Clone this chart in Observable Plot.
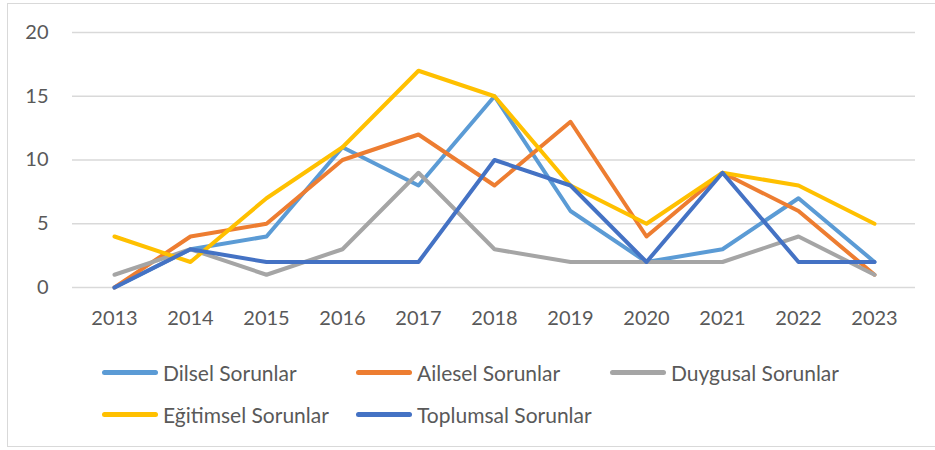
<!DOCTYPE html>
<html>
<head>
<meta charset="utf-8">
<script src="https://cdn.jsdelivr.net/npm/d3@7"></script>
<script src="https://cdn.jsdelivr.net/npm/@observablehq/plot@0.6"></script>
<style>
  html, body { margin: 0; padding: 0; background: #fff; overflow: hidden; width: 935px; height: 450px; }
  #wrap { position: relative; width: 935px; height: 450px; font-family: Lato, "Noto Sans", sans-serif; }
  #frame { position: absolute; left: 7px; top: 3px; width: 960px; height: 444px; border: 1.5px solid #d9d9d9; box-sizing: border-box; }
  #chart { position: absolute; left: 0; top: 0; }
  #legend { position: absolute; left: 102px; top: 359px; display: grid; grid-template-columns: 254px 254px 254px; row-gap: 16px; }
  .item { display: flex; align-items: center; height: 26px; font-size: 21px; color: #595959; white-space: nowrap; }
  .sw { width: 56px; height: 5px; border-radius: 3px; margin-right: 5px; flex: none; }
</style>
</head>
<body>
<div id="wrap">
  <div id="frame"></div>
  <div id="chart"></div>
  <div id="legend"></div>
</div>
<script>
const years = ["2013","2014","2015","2016","2017","2018","2019","2020","2021","2022","2023"];
const seriesNames = ["Dilsel Sorunlar","Ailesel Sorunlar","Duygusal Sorunlar","Eğitimsel Sorunlar","Toplumsal Sorunlar"];
const colors = ["#5B9BD5","#ED7D31","#A5A5A5","#FFC000","#4472C4"];
const dilsel    = [0, 3, 4, 11, 8, 15, 6, 2, 3, 7, 2];
const ailesel   = [0, 4, 5, 10, 12, 8, 13, 4, 9, 6, 1];
const duygusal  = [1, 3, 1, 3, 9, 3, 2, 2, 2, 4, 1];
const egitimsel = [4, 2, 7, 11, 17, 15, 8, 5, 9, 8, 5];
const toplumsal = [0, 3, 2, 2, 2, 10, 8, 2, 9, 2, 2];
const yTicks = [0, 5, 10, 15, 20];

const allValues = [dilsel, ailesel, duygusal, egitimsel, toplumsal];
const data = [];
seriesNames.forEach((s, i) => years.forEach((y, j) => data.push({series: s, year: y, value: allValues[i][j]})));

const chart = Plot.plot({
  width: 935,
  height: 340,
  marginLeft: 72,
  marginRight: 20,
  marginTop: 32,
  marginBottom: 53,
  style: {fontFamily: "Lato, 'Noto Sans', sans-serif", fontSize: "20px", color: "#595959", background: "transparent"},
  x: {type: "point", domain: years, padding: 0.5, label: null, tickSize: 0, tickPadding: 23},
  y: {domain: [0, 20], ticks: yTicks, label: null, tickSize: 0, tickPadding: 24},
  color: {domain: seriesNames, range: colors},
  marks: [
    Plot.gridY(yTicks, {stroke: "#d9d9d9", strokeWidth: 1.5, strokeOpacity: 1}),
    Plot.line(data, {x: "year", y: "value", z: "series", stroke: "series", strokeWidth: 4, strokeLinecap: "round", strokeLinejoin: "round"})
  ]
});
document.getElementById("chart").appendChild(chart);

const legend = document.getElementById("legend");
seriesNames.forEach((s, i) => {
  const it = document.createElement("div");
  it.className = "item";
  const sw = document.createElement("span");
  sw.className = "sw";
  sw.style.background = colors[i];
  it.appendChild(sw);
  it.appendChild(document.createTextNode(s));
  legend.appendChild(it);
});
</script>
</body>
</html>
